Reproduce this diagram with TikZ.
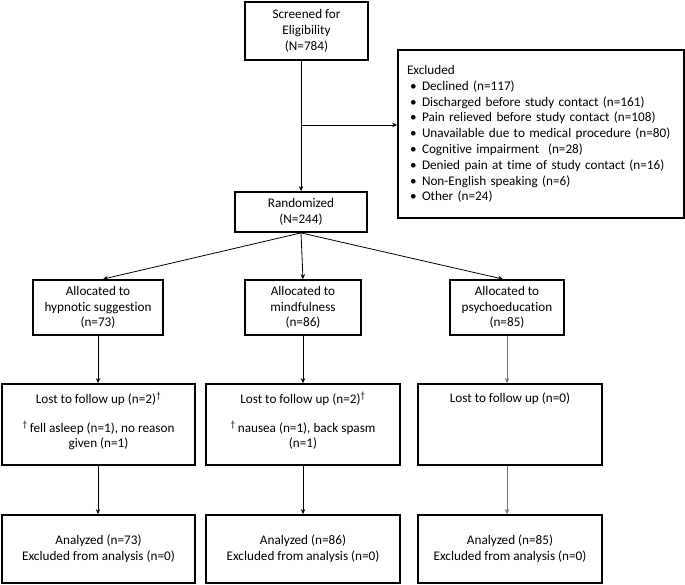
\documentclass[tikz,border=0pt]{standalone}
\usepackage{fontspec}
\setmainfont{Carlito}[Ligatures={NoCommon}]
\usetikzlibrary{arrows.meta}
\newcommand\bul{\makebox[15pt][l]{\hspace*{3pt}\textbullet}}
\newcommand\dg{\textsuperscript{\textdagger}}
\begin{document}
\begin{tikzpicture}[x=1pt,y=-1pt,
  box/.style={draw, line width=1.8pt, inner sep=0pt, align=center,
    font=\fontsize{13.2}{15.8}\selectfont},
  conn/.style={line width=0.8pt},
  arr/.style={conn, -{Stealth[length=5pt,width=4.5pt]}},
  greyconn/.style={draw=black!55},
]
\useasboundingbox (0,0) rectangle (685,585);

\node[box, minimum width=123pt, minimum height=58pt] (screen) at (306.5,31)
  {Screened for\\Eligibility\\(N=784)};

\node[box, minimum width=286pt, minimum height=168pt, text width=268pt, align=left] (excl) at (541,134)
  {Excluded\\
   \bul Declined (n=117)\\
   \bul Discharged before study contact (n=161)\\
   \bul Pain relieved before study contact (n=108)\\
   \bul Unavailable due to medical procedure (n=80)\\
   \bul Cognitive impairment\ \ (n=28)\\
   \bul Denied pain at time of study contact (n=16)\\
   \bul Non-English speaking (n=6)\\
   \bul Other (n=24)};

\node[box, minimum width=132pt, minimum height=40pt] (rand) at (301,212)
  {Randomized\\(N=244)};

\node[box, minimum width=130pt, minimum height=55pt] (alloc1) at (98,307.5)
  {Allocated to\\hypnotic suggestion\\(n=73)};
\node[box, minimum width=116pt, minimum height=55pt] (alloc2) at (303,307.5)
  {Allocated to\\mindfulness\\(n=86)};
\node[box, minimum width=114pt, minimum height=55pt] (alloc3) at (507,307.5)
  {Allocated to\\psychoeducation\\(n=85)};

\node[box, minimum width=193pt, minimum height=81pt] (lost1) at (98.5,424.5)
  {\begin{minipage}[t][64pt][t]{185pt}\centering
   Lost to follow up (n=2)\dg\\[13pt]
   \dg\,fell asleep (n=1), no reason\\ given (n=1)\end{minipage}};
\node[box, minimum width=194pt, minimum height=81pt] (lost2) at (303,424.5)
  {\begin{minipage}[t][64pt][t]{185pt}\centering
   Lost to follow up (n=2)\dg\\[13pt]
   \dg\,nausea (n=1), back spasm\\ (n=1)\end{minipage}};
\node[box, minimum width=184pt, minimum height=81pt] (lost3) at (510,424.5)
  {\begin{minipage}[t][64pt][t]{175pt}\centering
   Lost to follow up (n=0)\end{minipage}};

\node[box, minimum width=193pt, minimum height=68pt] (an1) at (98.5,549)
  {Analyzed (n=73)\\Excluded from analysis (n=0)};
\node[box, minimum width=194pt, minimum height=68pt] (an2) at (303,549)
  {Analyzed (n=86)\\Excluded from analysis (n=0)};
\node[box, minimum width=184pt, minimum height=68pt] (an3) at (510,549)
  {Analyzed (n=85)\\Excluded from analysis (n=0)};

% connectors
\draw[arr] (rand.north |- screen.south) -- (rand.north);
\coordinate (junc) at (301,125);
\draw[arr] (junc) -- (junc -| excl.west);

\draw[arr] (rand.south) -- ([xshift=5pt]alloc1.north);
\draw[arr] (rand.south) -- (alloc2.north);
\draw[arr] (rand.south) -- ([xshift=-4pt]alloc3.north);

\draw[arr] (alloc1.south) -- (alloc1.south |- lost1.north);
\draw[arr] (alloc2.south) -- (alloc2.south |- lost2.north);
\draw[arr, greyconn] (alloc3.south) -- (alloc3.south |- lost3.north);

\draw[arr] (alloc1.south |- lost1.south) -- (alloc1.south |- an1.north);
\draw[arr] (alloc2.south |- lost2.south) -- (alloc2.south |- an2.north);
\draw[arr, greyconn] (alloc3.south |- lost3.south) -- (alloc3.south |- an3.north);
\end{tikzpicture}
\end{document}
